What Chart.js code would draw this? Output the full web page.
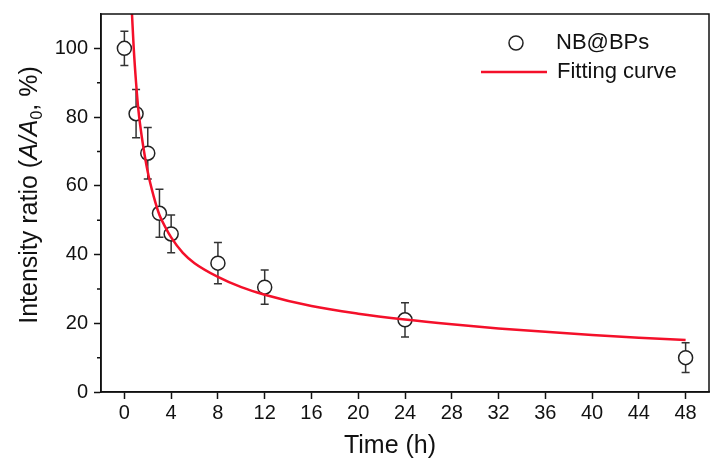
<!DOCTYPE html>
<html lang="en">
<head>
<meta charset="UTF-8">
<title>Intensity ratio vs time</title>
<script src="https://cdn.jsdelivr.net/npm/chart.js"></script>
<style>
  html, body { margin: 0; padding: 0; background: #fff; }
</style>
</head>
<body>
<canvas id="c" width="719" height="463"></canvas>
<script>
// measured points (NB@BPs) with error bars
const times  = [0, 1, 2, 3, 4, 8, 12, 24, 48];
const ratios = [100, 81, 69.5, 52, 46, 37.5, 30.5, 21, 10];
const errors = [5, 7, 7.5, 7, 5.5, 6, 5, 5, 4.3];

// fitting curve
const fitTimes  = [0.65, 0.8, 1.0, 1.2, 1.5, 2, 2.5, 3, 3.5, 4, 5, 6, 8, 10, 12, 16, 20, 24, 28, 32, 36, 40, 44, 48];
const fitValues = [110, 100, 90, 82, 74, 64, 57, 51.5, 48, 45, 40.5, 37.5, 33.5, 30.5, 28.3, 25, 22.8, 21.1, 19.7, 18.5, 17.5, 16.6, 15.8, 15.1];

const xTicks = [0, 4, 8, 12, 16, 20, 24, 28, 32, 36, 40, 44, 48];
const yTicks = [0, 20, 40, 60, 80, 100];
const yMinor = [10, 30, 50, 70, 90];

const FONT = "'Liberation Sans', Arial, sans-serif";
const RED = '#f4102a';
const INK = '#222';

const extras = {
  id: 'extras',
  beforeDatasetsDraw(chart) {
    const { ctx, scales: { x, y } } = chart;
    ctx.save();
    ctx.strokeStyle = '#333';
    ctx.lineWidth = 1.5;
    times.forEach((t, i) => {
      const px = x.getPixelForValue(t);
      const top = y.getPixelForValue(ratios[i] + errors[i]);
      const bot = y.getPixelForValue(ratios[i] - errors[i]);
      ctx.beginPath();
      ctx.moveTo(px, top); ctx.lineTo(px, bot);
      ctx.moveTo(px - 4, top); ctx.lineTo(px + 4, top);
      ctx.moveTo(px - 4, bot); ctx.lineTo(px + 4, bot);
      ctx.stroke();
    });
    ctx.restore();
  },
  afterDraw(chart) {
    const { ctx, chartArea: a, scales: { y } } = chart;
    ctx.save();
    // frame
    ctx.strokeStyle = '#111';
    ctx.lineWidth = 1.5;
    ctx.strokeRect(a.left, a.top, a.right - a.left, a.bottom - a.top);
    // minor y ticks
    ctx.beginPath();
    yMinor.forEach(v => {
      const py = y.getPixelForValue(v);
      ctx.moveTo(a.left - 4, py); ctx.lineTo(a.left, py);
    });
    ctx.stroke();

    // legend
    ctx.fillStyle = '#fff';
    ctx.strokeStyle = INK;
    ctx.lineWidth = 1.5;
    ctx.beginPath();
    ctx.arc(516, 43, 7, 0, Math.PI * 2);
    ctx.fill(); ctx.stroke();
    ctx.strokeStyle = RED;
    ctx.lineWidth = 2.5;
    ctx.beginPath();
    ctx.moveTo(481, 72); ctx.lineTo(547, 72);
    ctx.stroke();
    ctx.fillStyle = '#111';
    ctx.font = '22px ' + FONT;
    ctx.textBaseline = 'middle';
    ctx.textAlign = 'left';
    ctx.fillText('NB@BPs', 556, 43);
    ctx.fillText('Fitting curve', 557, 72);

    // x title
    ctx.font = '25px ' + FONT;
    ctx.textAlign = 'center';
    ctx.textBaseline = 'alphabetic';
    ctx.fillText('Time (h)', 390, 453);

    // y title with italic A/A and subscript 0
    const parts = [
      { t: 'Intensity ratio (', f: '25px ' + FONT, dy: 0 },
      { t: 'A/A', f: 'italic 25px ' + FONT, dy: 0 },
      { t: '0', f: '16px ' + FONT, dy: 5 },
      { t: ', %)', f: '25px ' + FONT, dy: 0 }
    ];
    let total = 0;
    parts.forEach(p => { ctx.font = p.f; p.w = ctx.measureText(p.t).width; total += p.w; });
    ctx.translate(37, 195);
    ctx.rotate(-Math.PI / 2);
    ctx.textAlign = 'left';
    let cx = -total / 2;
    parts.forEach(p => {
      ctx.font = p.f;
      ctx.fillText(p.t, cx, p.dy);
      cx += p.w;
    });
    ctx.restore();
  }
};

new Chart(document.getElementById('c'), {
  type: 'scatter',
  data: {
    datasets: [
      {
        label: 'Fitting curve',
        data: fitTimes.map((t, i) => ({ x: t, y: fitValues[i] })),
        showLine: true,
        borderColor: RED,
        borderWidth: 2.5,
        pointRadius: 0,
        cubicInterpolationMode: 'monotone',
        order: 0
      },
      {
        label: 'NB@BPs',
        data: times.map((t, i) => ({ x: t, y: ratios[i] })),
        showLine: false,
        pointStyle: 'circle',
        pointRadius: 7,
        pointBorderWidth: 1.5,
        borderColor: INK,
        backgroundColor: '#fff',
        order: 1
      }
    ]
  },
  options: {
    responsive: false,
    animation: false,
    devicePixelRatio: 1,
    layout: { padding: { top: 14, right: 10, left: 0, bottom: 0 } },
    plugins: { legend: { display: false }, tooltip: { enabled: false } },
    scales: {
      x: {
        type: 'linear',
        min: -2, max: 50,
        afterBuildTicks: s => { s.ticks = xTicks.map(v => ({ value: v })); },
        afterFit: s => { s.height = 71; s.paddingLeft = 0; s.paddingRight = 0; },
        ticks: { font: { size: 20, family: FONT }, color: '#111', padding: 2, maxRotation: 0 },
        grid: { drawOnChartArea: false, tickLength: 7, tickColor: '#111', tickWidth: 1.5 },
        border: { color: '#111', width: 1.5 }
      },
      y: {
        min: 0, max: 110,
        afterBuildTicks: s => { s.ticks = yTicks.map(v => ({ value: v })); },
        afterFit: s => { s.width = 101; s.paddingTop = 0; s.paddingBottom = 0; },
        ticks: { font: { size: 20, family: FONT }, color: '#111', padding: 6 },
        grid: { drawOnChartArea: false, tickLength: 7, tickColor: '#111', tickWidth: 1.5 },
        border: { color: '#111', width: 1.5 }
      }
    }
  },
  plugins: [extras]
});
</script>
</body>
</html>
